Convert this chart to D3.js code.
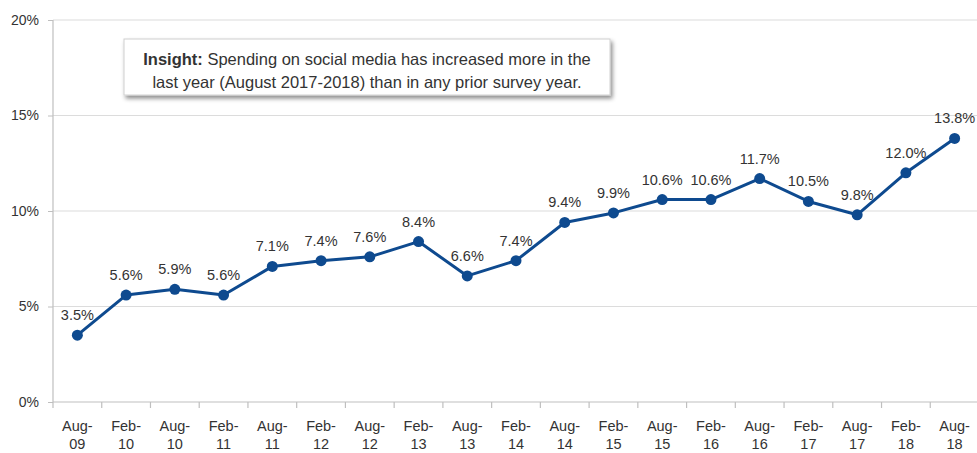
<!DOCTYPE html>
<html>
<head>
<meta charset="utf-8">
<script src="https://cdn.jsdelivr.net/npm/d3@7"></script>
<style>
  body { margin: 0; background: #fff; }
  text { font-family: "Liberation Sans", Arial, sans-serif; fill: #333; }
  .axis path { display: none; }
  .axis line { stroke: #bfbfbf; }
</style>
</head>
<body>
<div id="holder"></div>
<script>
var months = ['Aug-', 'Feb-', 'Aug-', 'Feb-', 'Aug-', 'Feb-', 'Aug-', 'Feb-', 'Aug-', 'Feb-',
  'Aug-', 'Feb-', 'Aug-', 'Feb-', 'Aug-', 'Feb-', 'Aug-', 'Feb-', 'Aug-'];
var years = ['09', '10', '10', '11', '11', '12', '12', '13', '13', '14',
  '14', '15', '15', '16', '16', '17', '17', '18', '18'];
var spending = [3.5, 5.6, 5.9, 5.6, 7.1, 7.4, 7.6, 8.4, 6.6, 7.4,
  9.4, 9.9, 10.6, 10.6, 11.7, 10.5, 9.8, 12.0, 13.8];
var yTicks = [0, 5, 10, 15, 20];
var insightBold = 'Insight:';
var insightLines = [' Spending on social media has increased more in the',
  'last year (August 2017-2018) than in any prior survey year.'];

function generateLineChart(){
  var fullWidth = 977;
  var fullHeight = 453;
  var margin = {top: 20, right: 0, bottom: 51, left: 53};
  var width = 979 - margin.left;
  var height = fullHeight - margin.top - margin.bottom;

  var keys = months.map(function(m, i){ return i; });

  var svg = d3.select('#holder').append('svg')
    .attr('width', fullWidth)
    .attr('height', fullHeight)
    .append('g')
    .attr('transform', 'translate(' + margin.left + ',' + margin.top + ')');

  var yScale = d3.scaleLinear()
    .domain([0, 20])
    .range([height, 0]);

  var xScale = d3.scaleBand()
    .domain(keys)
    .range([0, width]);

  var bw = xScale.bandwidth();

  // gridlines
  svg.append('g')
    .selectAll('line.grid')
    .data(yTicks)
    .enter().append('line')
      .attr('x1', 0)
      .attr('x2', width)
      .attr('y1', function(d){ return yScale(d); })
      .attr('y2', function(d){ return yScale(d); })
      .attr('stroke', function(d){ return d === 0 ? '#bfbfbf' : '#dcdcdc'; })
      .attr('stroke-width', 1.2);

  // y axis line
  svg.append('line')
    .attr('x1', 0).attr('x2', 0)
    .attr('y1', 0).attr('y2', height)
    .attr('stroke', '#bfbfbf')
    .attr('stroke-width', 1.2);

  var yaxis = d3.axisLeft(yScale)
    .tickValues(yTicks)
    .tickSize(5)
    .tickPadding(9)
    .tickFormat(function(d){ return d + '%'; });

  svg.append('g')
    .classed('y axis', true)
    .call(yaxis)
    .selectAll('text')
      .style('font-size', '14px')
      .attr('fill', '#333');

  // x ticks at band boundaries
  svg.append('g')
    .selectAll('line.xtick')
    .data(d3.range(keys.length + 1))
    .enter().append('line')
      .attr('x1', function(d){ return d * bw; })
      .attr('x2', function(d){ return d * bw; })
      .attr('y1', height)
      .attr('y2', height + 6)
      .attr('stroke', '#bfbfbf')
      .attr('stroke-width', 1.2);

  var xLabels = svg.append('g')
    .selectAll('text.xlabel')
    .data(keys)
    .enter().append('text')
      .attr('text-anchor', 'middle')
      .attr('x', function(d){ return xScale(d) + bw / 2; })
      .attr('y', height + 29)
      .style('font-size', '14.5px');
  xLabels.append('tspan')
    .text(function(d){ return months[d]; });
  xLabels.append('tspan')
    .attr('x', function(d){ return xScale(d) + bw / 2; })
    .attr('dy', 18)
    .text(function(d){ return years[d]; });

  // line
  var line = d3.line()
    .x(function(d, i){ return xScale(i) + bw / 2; })
    .y(function(d){ return yScale(d); });

  svg.append('path')
    .datum(spending)
    .attr('fill', 'none')
    .attr('stroke', '#0e4a8f')
    .attr('stroke-width', 3)
    .attr('stroke-linejoin', 'round')
    .attr('d', line);

  svg.selectAll('circle.pt')
    .data(spending)
    .enter().append('circle')
      .attr('cx', function(d, i){ return xScale(i) + bw / 2; })
      .attr('cy', function(d){ return yScale(d); })
      .attr('r', 5.5)
      .attr('fill', '#0e4a8f');

  svg.selectAll('text.val')
    .data(spending)
    .enter().append('text')
      .attr('text-anchor', 'middle')
      .attr('x', function(d, i){ return xScale(i) + bw / 2; })
      .attr('y', function(d){ return yScale(d) - 15; })
      .style('font-size', '14.5px')
      .text(function(d){ return d.toFixed(1) + '%'; });

  // insight box
  var defs = d3.select('svg').append('defs');
  var f = defs.append('filter').attr('id', 'shadow')
    .attr('x', '-10%').attr('y', '-20%').attr('width', '130%').attr('height', '160%');
  f.append('feDropShadow')
    .attr('dx', 2).attr('dy', 3)
    .attr('stdDeviation', 2)
    .attr('flood-color', '#000')
    .attr('flood-opacity', 0.45);

  var box = d3.select('svg').append('g');
  box.append('rect')
    .attr('x', 124).attr('y', 39)
    .attr('width', 486).attr('height', 56)
    .attr('fill', '#fff')
    .attr('stroke', '#d0d0d0')
    .attr('filter', 'url(#shadow)');

  var t1 = box.append('text')
    .attr('x', 367).attr('y', 65)
    .attr('text-anchor', 'middle')
    .style('font-size', '16.5px')
    .attr('fill', '#111');
  t1.append('tspan').style('font-weight', 'bold').text(insightBold);
  t1.append('tspan').text(insightLines[0]);

  box.append('text')
    .attr('x', 367).attr('y', 88)
    .attr('text-anchor', 'middle')
    .style('font-size', '16.5px')
    .attr('fill', '#111')
    .text(insightLines[1]);
}

generateLineChart();
</script>
</body>
</html>
